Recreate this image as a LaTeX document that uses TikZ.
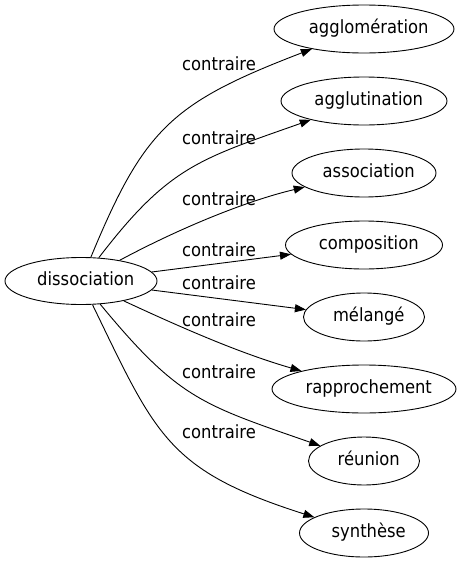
\documentclass[tikz,border=0pt]{standalone}
\usepackage{fontspec}
\setmainfont{DejaVu Sans}[FakeStretch=0.9]
\usetikzlibrary{arrows.meta,shapes.geometric,positioning}

\begin{document}
\begin{tikzpicture}[x=1pt,y=-1pt,node distance=72pt,line width=0.9pt,
  >={Triangle[length=11pt,width=8pt]},
  word/.style={ellipse,draw,inner sep=0pt,minimum height=48pt,text height=13.4pt,text depth=4pt,
    font=\fontsize{18.2}{21}\selectfont,
    execute at begin node={\kern4.75pt},execute at end node={\kern-4.75pt}},
  rel/.style={anchor=base,inner sep=0pt,font=\fontsize{18.2}{21}\selectfont}]

  \useasboundingbox (0,0) rectangle (461,563);

  \node[word,minimum width=152pt,minimum height=47pt] (diss) at (81,281) {dissociation};
  \node[word,minimum width=180pt] (aggl) at (364,29) {agglomération};
  \node[word,minimum width=166pt] (agglu)   [below of=aggl]    {agglutination};
  \node[word,minimum width=144pt] (assoc)   [below of=agglu]   {association};
  \node[word,minimum width=157pt] (compos)  [below of=assoc]   {composition};
  \node[word,minimum width=121pt] (melange) [below of=compos]  {mélangé};
  \node[word,minimum width=184pt] (rappro)  [below of=melange] {rapprochement};
  \node[word,minimum width=111pt] (reunion) [below of=rappro]  {réunion};
  \node[word,minimum width=129pt] (synth)   [below of=reunion] {synthèse};

  \draw[->] (diss) .. controls (144,129) and (171,103) .. (aggl);
  \draw[->] (diss) .. controls (169,166) and (200,159) .. (agglu);
  \draw[->] (diss) .. controls (180,228) and (246,201) .. (assoc);
  \draw[->] (diss) -- (compos);
  \draw[->] (diss) -- (melange);
  \draw[->] (diss) .. controls (180,327) and (239,353) .. (rappro);
  \draw[->] (diss) .. controls (178.6,399) and (201.2,404.3) .. (reunion);
  \draw[->] (diss) .. controls (155.9,435.3) and (167.2,470.4) .. (synth);

  \node[rel] (r1) at (219,70.7)  {contraire};
  \node[rel] (r2) at (219,144)   {contraire};
  \node[rel] (r3) at (219,205)   {contraire};
  \node[rel] (r4) at (219,256)   {contraire};
  \node[rel] (r5) at (219,289.3) {contraire};
  \node[rel] (r6) at (219,326)   {contraire};
  \node[rel] (r7) at (219,378.3) {contraire};
  \node[rel] (r8) at (219,438.3) {contraire};
\end{tikzpicture}
\end{document}
